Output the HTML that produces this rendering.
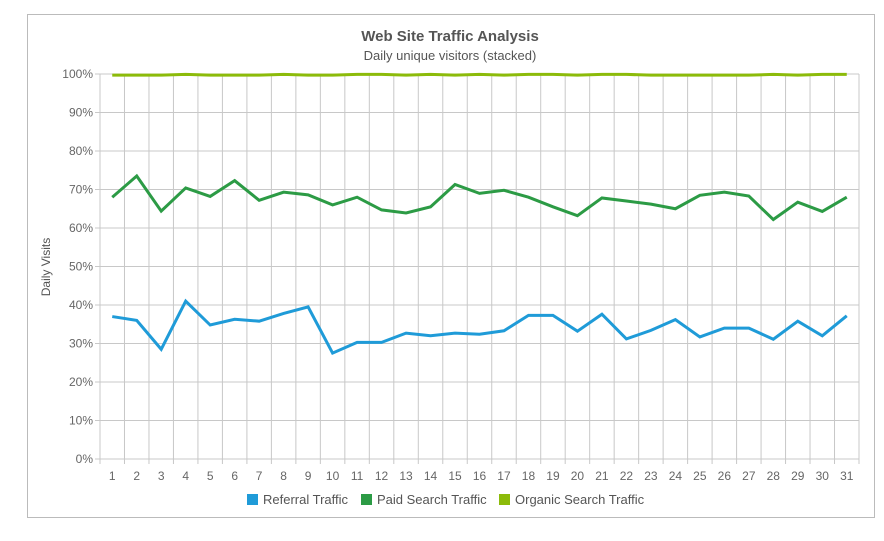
<!DOCTYPE html>
<html><head><meta charset="utf-8"><style>
body{margin:0;background:#fff;font-family:"Liberation Sans",sans-serif;}
svg text{font-family:"Liberation Sans",sans-serif;}
</style></head><body>
<svg width="884" height="536" viewBox="0 0 884 536">
<rect x="27.5" y="14.5" width="847" height="503" fill="#fff" stroke="#bbb"/>
<text x="450" y="41" text-anchor="middle" font-size="15" font-weight="bold" fill="#555">Web Site Traffic Analysis</text>
<text x="450" y="60" text-anchor="middle" font-size="13" fill="#555">Daily unique visitors (stacked)</text>
<text transform="translate(50,267) rotate(-90)" text-anchor="middle" font-size="12" fill="#555">Daily Visits</text>
<g id="grid"></g><g id="series"></g>
<g>
<rect x="247" y="494" width="11" height="11" fill="#1f9bd8"/>
<text x="263" y="504" font-size="13" fill="#555">Referral Traffic</text>
<rect x="361" y="494" width="11" height="11" fill="#2c9b45"/>
<text x="377" y="504" font-size="13" fill="#555">Paid Search Traffic</text>
<rect x="499" y="494" width="11" height="11" fill="#8cbb0a"/>
<text x="515" y="504" font-size="13" fill="#555">Organic Search Traffic</text>
</g>
</svg>
<script>
const days=[1,2,3,4,5,6,7,8,9,10,11,12,13,14,15,16,17,18,19,20,21,22,23,24,25,26,27,28,29,30,31];
const referralCum=[37,36,28.5,41,34.8,36.3,35.8,37.8,39.5,27.5,30.3,30.3,32.7,32,32.7,32.4,33.3,37.3,37.3,33.2,37.6,31.2,33.4,36.2,31.7,34,34,31.1,35.8,32,37.2];
const paidCum=[68,73.5,64.4,70.4,68.2,72.3,67.2,69.3,68.6,66,68,64.7,63.9,65.5,71.3,69,69.8,68,65.5,63.2,67.8,67,66.2,65,68.5,69.3,68.3,62.2,66.7,64.3,68];
const organicCum=[99.7,99.7,99.7,99.9,99.7,99.7,99.7,99.9,99.7,99.7,99.9,99.9,99.7,99.9,99.7,99.9,99.7,99.9,99.9,99.7,99.9,99.9,99.7,99.7,99.7,99.7,99.7,99.9,99.7,99.9,99.9];
const yTicks=[0,10,20,30,40,50,60,70,80,90,100];
const X0=100,X1=859,Y0=459,Y1=74,NS="http://www.w3.org/2000/svg";
const bw=(X1-X0)/days.length;
const xs=i=>X0+bw*(i+0.5), ys=v=>Y0-(v/100)*(Y0-Y1);
function mk(t,a,p){const e=document.createElementNS(NS,t);for(const k in a)e.setAttribute(k,a[k]);p.appendChild(e);return e;}
const g=document.getElementById('grid');
yTicks.forEach(v=>{const l=mk('line',{x1:X0-5,x2:X1,y1:ys(v),y2:ys(v),stroke:'#c8c8c8'},g);


const t=mk('text',{x:X0-7,y:ys(v)+4,'text-anchor':'end','font-size':12,fill:'#666'},g);t.textContent=v+'%';

});
for(let i=0;i<=days.length;i++){const x=X0+bw*i;const l=mk('line',{x1:x,x2:x,y1:Y1,y2:Y0+5,stroke:'#c8c8c8'},g);

}
days.forEach((d,i)=>{const t=mk('text',{x:xs(i),y:Y0+21,'text-anchor':'middle','font-size':12,fill:'#666'},g);t.textContent=d;

});
const s=document.getElementById('series');
[[organicCum,'#8cbb0a','organic-search-line'],[paidCum,'#2c9b45','paid-search-line'],[referralCum,'#1f9bd8','referral-line']].forEach(([arr,c,n])=>{
const p=mk('polyline',{points:arr.map((v,i)=>xs(i)+','+ys(v)).join(' '),fill:'none',stroke:c,'stroke-width':3,'stroke-linejoin':'miter'},s);

});
</script>
</body></html>
